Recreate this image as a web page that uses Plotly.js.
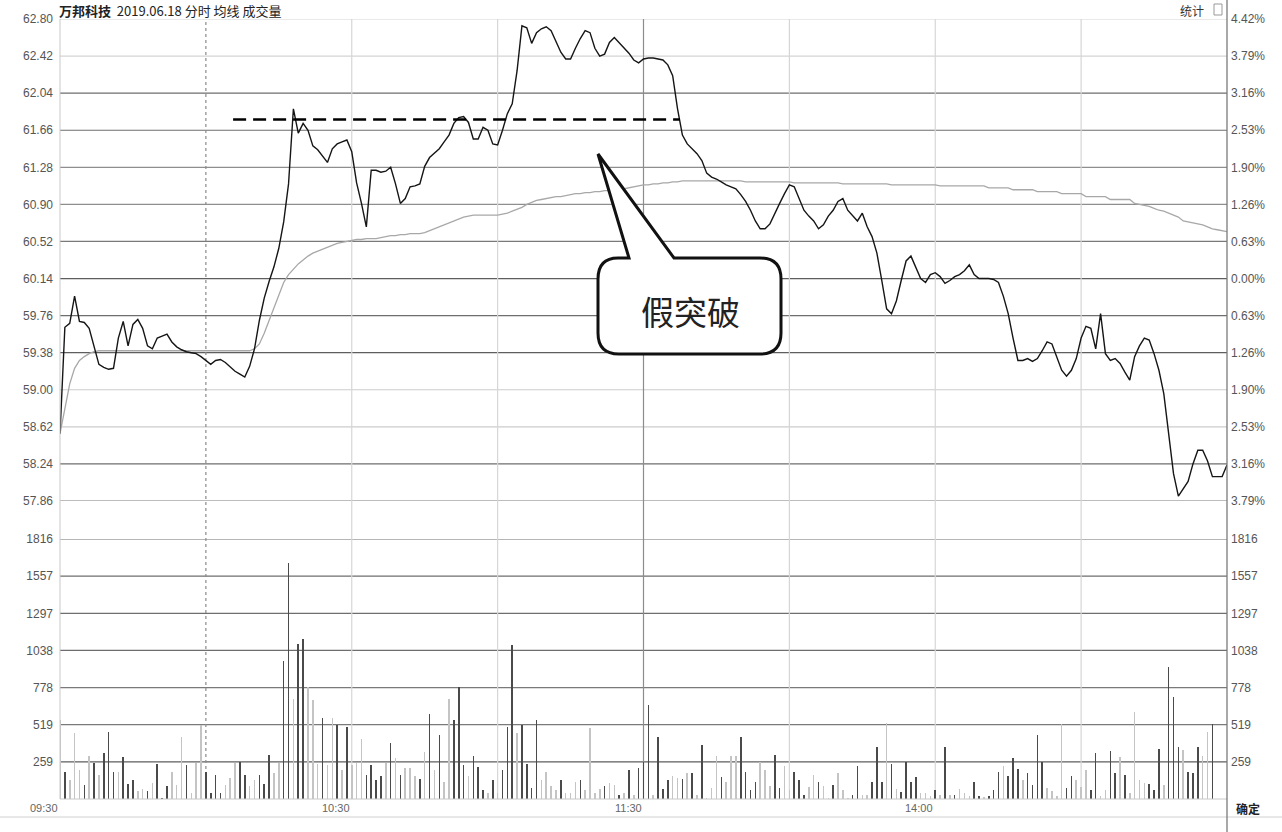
<!DOCTYPE html>
<html><head><meta charset="utf-8">
<script src="https://cdn.plot.ly/plotly-3.0.1.min.js"></script>
<style>html,body{margin:0;padding:0;background:#fff;}#chart{width:1282px;height:832px;}</style>
</head><body><div id="chart"></div>
<script>
// ---- data ----
const priceTicks = [62.80, 62.42, 62.04, 61.66, 61.28, 60.90, 60.52, 60.14, 59.76, 59.38, 59.00, 58.62, 58.24, 57.86];
const pctLabels = ["4.42%", "3.79%", "3.16%", "2.53%", "1.90%", "1.26%", "0.63%", "0.00%", "0.63%", "1.26%", "1.90%", "2.53%", "3.16%", "3.79%"];
const volTicks = [259, 519, 778, 1038, 1297, 1557, 1816];
const timeLabels = ["09:30", "10:30", "11:30", "14:00"];
const timeLabelPos = [0, 60, 120, 180];

const price = [
58.55,59.64,59.68,59.96,59.70,59.69,59.63,59.44,59.26,59.23,
59.21,59.22,59.53,59.70,59.45,59.67,59.72,59.63,59.45,59.42,
59.53,59.55,59.57,59.49,59.44,59.41,59.39,59.38,59.37,59.34,
59.30,59.26,59.30,59.31,59.28,59.23,59.19,59.16,59.13,59.24,
59.42,59.71,59.94,60.11,60.26,60.45,60.72,61.11,61.88,61.63,
61.73,61.66,61.50,61.46,61.40,61.33,61.47,61.52,61.54,61.56,
61.44,61.12,60.91,60.67,61.25,61.25,61.23,61.24,61.28,61.11,
60.91,60.96,61.08,61.09,61.11,61.29,61.38,61.43,61.47,61.54,
61.61,61.73,61.79,61.80,61.74,61.57,61.57,61.69,61.66,61.52,
61.51,61.66,61.83,61.93,62.27,62.73,62.71,62.55,62.66,62.70,
62.72,62.68,62.57,62.46,62.39,62.39,62.50,62.60,62.68,62.66,
62.50,62.42,62.44,62.56,62.61,62.56,62.51,62.45,62.38,62.35,
62.39,62.40,62.40,62.39,62.38,62.33,62.22,61.88,61.61,61.52,
61.47,61.42,61.35,61.22,61.18,61.16,61.13,61.10,61.08,61.06,
61.00,60.93,60.84,60.73,60.65,60.65,60.70,60.81,60.91,61.01,
61.10,61.08,60.96,60.84,60.78,60.73,60.65,60.69,60.78,60.84,
60.93,60.96,60.84,60.78,60.73,60.81,60.67,60.57,60.40,60.12,
59.83,59.78,59.91,60.12,60.32,60.37,60.26,60.14,60.10,60.18,
60.20,60.16,60.09,60.12,60.16,60.18,60.22,60.28,60.18,60.14,
60.14,60.14,60.13,60.10,59.96,59.78,59.53,59.30,59.30,59.32,
59.29,59.32,59.40,59.49,59.47,59.34,59.20,59.14,59.20,59.32,
59.53,59.65,59.63,59.42,59.78,59.37,59.30,59.32,59.27,59.18,
59.10,59.34,59.45,59.53,59.51,59.37,59.20,58.96,58.53,58.14,
57.91,57.99,58.06,58.24,58.38,58.38,58.27,58.11,58.11,58.11,
58.23];

const avgPrice = [
58.55,58.81,59.06,59.22,59.30,59.34,59.37,59.39,59.40,59.40,
59.40,59.40,59.40,59.40,59.40,59.40,59.40,59.40,59.40,59.40,
59.40,59.40,59.40,59.40,59.40,59.40,59.40,59.40,59.40,59.40,
59.40,59.40,59.40,59.40,59.40,59.40,59.40,59.40,59.40,59.40,
59.42,59.47,59.58,59.71,59.85,59.99,60.10,60.18,60.24,60.29,
60.33,60.37,60.40,60.42,60.44,60.46,60.48,60.50,60.51,60.52,
60.53,60.54,60.54,60.55,60.55,60.55,60.56,60.57,60.58,60.58,
60.59,60.59,60.60,60.60,60.60,60.61,60.63,60.65,60.67,60.69,
60.71,60.73,60.75,60.77,60.78,60.79,60.79,60.79,60.79,60.79,
60.79,60.80,60.81,60.83,60.85,60.87,60.90,60.92,60.94,60.95,
60.96,60.97,60.98,60.98,60.99,61.00,61.01,61.01,61.02,61.02,
61.03,61.03,61.04,61.04,61.05,61.05,61.06,61.07,61.08,61.09,
61.10,61.10,61.11,61.11,61.12,61.12,61.13,61.13,61.14,61.14,
61.14,61.14,61.14,61.14,61.14,61.14,61.14,61.14,61.14,61.14,
61.14,61.13,61.13,61.13,61.13,61.13,61.13,61.13,61.13,61.13,
61.13,61.12,61.12,61.12,61.12,61.12,61.12,61.12,61.12,61.12,
61.12,61.11,61.11,61.11,61.11,61.11,61.11,61.11,61.11,61.11,
61.11,61.10,61.10,61.10,61.10,61.10,61.10,61.10,61.10,61.10,
61.10,61.09,61.09,61.09,61.09,61.09,61.09,61.09,61.09,61.09,
61.09,61.07,61.07,61.07,61.07,61.07,61.05,61.05,61.05,61.05,
61.05,61.03,61.03,61.03,61.03,61.03,61.01,61.01,61.01,61.01,
61.01,60.98,60.98,60.98,60.98,60.98,60.95,60.95,60.95,60.95,
60.95,60.91,60.90,60.89,60.88,60.86,60.84,60.83,60.81,60.79,
60.77,60.73,60.72,60.71,60.70,60.69,60.67,60.65,60.64,60.63,
60.62];

const volume = [
550,190,135,460,200,100,300,250,170,320,
470,190,190,290,105,135,55,70,55,110,
245,10,90,190,100,435,235,40,250,520,
190,45,170,45,100,145,250,260,165,90,
135,170,105,310,185,250,965,1650,700,1080,
1115,785,690,245,565,240,565,515,200,500,
240,250,420,170,240,135,160,250,390,285,
170,215,215,160,140,330,595,205,445,120,
700,550,780,240,160,300,225,65,45,135,
40,200,500,1075,460,515,245,80,550,130,
190,90,65,135,45,45,120,130,60,495,
45,70,90,115,95,30,45,205,30,215,
260,655,30,430,70,135,160,150,140,180,
185,25,380,7,75,300,155,120,300,300,
430,190,65,120,255,205,90,310,75,230,
60,190,135,30,85,170,120,90,7,100,
180,60,7,30,230,30,30,120,360,120,
530,245,70,50,260,120,155,40,40,20,
60,25,360,30,25,70,40,20,120,20,
15,20,65,190,230,160,285,210,130,180,
100,445,255,75,55,20,525,75,160,135,
85,205,65,320,20,65,335,180,290,170,
40,610,130,110,105,65,350,100,920,710,
360,345,190,180,360,300,465,525,0,0,
0];

// 1 = dark bar, 0 = light bar (as drawn in the picture)
const volDark = [
0,1,0,0,0,1,0,1,0,1, 1,1,0,1,1,1,0,0,1,0,
1,1,1,0,0,0,1,0,0,0, 1,1,1,1,0,0,0,1,1,0,
0,1,1,1,0,0,1,1,0,1, 1,0,0,0,1,0,0,1,0,1,
0,0,0,1,1,1,1,0,1,0, 1,0,0,0,1,0,1,0,1,0,
0,1,1,1,0,1,1,1,0,1, 0,1,1,1,0,1,1,1,1,0,
0,0,0,1,0,0,0,1,0,0, 0,0,1,0,0,1,0,1,0,1,
1,1,0,1,1,1,0,0,1,0, 1,0,1,0,0,0,1,0,0,0,
1,1,1,1,0,0,0,1,1,0, 0,1,1,1,0,0,1,0,0,1,
0,0,0,1,1,0,0,1,1,1, 0,1,0,1,1,1,1,0,0,0,
1,0,1,0,1,0,0,0,1,1, 0,1,1,1,0,1,1,1,0,1,
1,1,1,0,0,0,0,1,1,0, 0,0,1,1,0,0,1,1,0,1,
0,0,0,0,1,1,1,0,1,1, 1,0,1,1,1,0,0,1,0,0,
0];

// ---- geometry helpers for layout furniture (pixels -> paper) ----
const PL = 60, PR = 1227, PT = 19, PB = 799;
const px = v => (v - PL) / (PR - PL);
const py = v => (PB - v) / (PB - PT);

const idx = price.map((_, i) => i);

const traces = [
  {x: idx, y: volume, xaxis: 'x', yaxis: 'y3', type: 'bar', width: 0.32,
   marker: {color: volDark.map(d => d ? '#4a4a4a' : '#c4c4c4'), line: {width: 0}},
   hoverinfo: 'skip', showlegend: false},
  {x: idx, y: avgPrice, xaxis: 'x', yaxis: 'y', type: 'scatter', mode: 'lines',
   line: {color: '#a8a8a8', width: 1.3}, hoverinfo: 'skip', showlegend: false},
  {x: idx, y: price, xaxis: 'x', yaxis: 'y', type: 'scatter', mode: 'lines',
   line: {color: '#151515', width: 1.4}, hoverinfo: 'skip', showlegend: false}
];

const priceGridColors = ['#d4d4d4','#d4d4d4','#6e6e6e','#6e6e6e','#8e8e8e','#8e8e8e','#7a7a7a','#5e5e5e','#6e6e6e','#5e5e5e','#cccccc','#cccccc','#6e6e6e','#7a7a7a'];
const volGridColors = ['#6e6e6e','#6e6e6e','#6e6e6e','#6e6e6e','#7a7a7a','#7a7a7a','#5e5e5e'];

const shapes = [];
priceTicks.forEach((v, k) => shapes.push({type: 'line', xref: 'paper', yref: 'y', x0: 0, x1: 1, y0: v, y1: v,
  line: {color: priceGridColors[k], width: 1.2}, layer: 'below'}));
volTicks.slice().reverse().forEach((v, k) => shapes.push({type: 'line', xref: 'paper', yref: 'y3', x0: 0, x1: 1, y0: v, y1: v,
  line: {color: volGridColors[k], width: 1.2}, layer: 'below'}));
shapes.push({type: 'line', xref: 'paper', yref: 'paper', x0: 0, x1: 1, y0: 0, y1: 0, line: {color: '#c8c8c8', width: 1}});
shapes.push({type: 'line', xref: 'paper', yref: 'paper', x0: px(0), x1: px(1282), y0: py(817), y1: py(817), line: {color: '#d0d0d0', width: 1}});
[[30, '#8a8a8a', 'dot'], [60, '#d6d6d6', 'solid'], [90, '#d6d6d6', 'solid'], [120, '#8c8c8c', 'solid'],
 [150, '#d6d6d6', 'solid'], [180, '#d6d6d6', 'solid'], [210, '#d6d6d6', 'solid']].forEach(([m, c, d]) =>
  shapes.push({type: 'line', xref: 'x', yref: 'paper', x0: m, x1: m, y0: 0, y1: 1, line: {color: c, width: 1.2, dash: d}, layer: 'below'}));
shapes.push({type: 'line', xref: 'paper', yref: 'paper', x0: 0, x1: 0, y0: 0, y1: 1, line: {color: '#c8c8c8', width: 1}});
shapes.push({type: 'line', xref: 'paper', yref: 'paper', x0: 1, x1: 1, y0: py(832), y1: py(0), line: {color: '#7a7a7a', width: 1.3}});
shapes.push({type: 'line', xref: 'x', yref: 'y', x0: 35.6, x1: 127.5, y0: 61.77, y1: 61.77,
  line: {color: '#000', width: 2.6, dash: '13px,7px'}});
const P = (a, b) => px(a) + ',' + py(b);
const bubble = 'M' + P(618, 258) + ' L' + P(629, 258) + ' L' + P(598, 154) + ' L' + P(674, 258) +
  ' L' + P(760, 258) + ' Q' + P(781, 258) + ' ' + P(781, 279) + ' L' + P(781, 333) +
  ' Q' + P(781, 354) + ' ' + P(760, 354) + ' L' + P(619, 354) + ' Q' + P(598, 354) + ' ' + P(598, 333) +
  ' L' + P(598, 279) + ' Q' + P(598, 258) + ' ' + P(618, 258) + ' Z';
shapes.push({type: 'path', xref: 'paper', yref: 'paper', path: bubble, fillcolor: '#ffffff',
  line: {color: '#111', width: 3}});
shapes.push({type: 'rect', xref: 'paper', yref: 'paper', x0: px(1214), x1: px(1222), y0: py(15), y1: py(4),
  line: {color: '#999', width: 1}, fillcolor: '#fff'});

const annotations = [
  {xref: 'paper', yref: 'paper', x: px(690), y: py(311), text: '假突破', showarrow: false,
   font: {family: 'Noto Sans CJK SC', size: 33, color: '#222'}, xanchor: 'center', yanchor: 'middle'},
  {xref: 'paper', yref: 'paper', x: px(57), y: py(10), text: '<b>万邦科技</b>  2019.06.18 分时 均线 成交量', showarrow: false,
   font: {family: 'Noto Sans CJK SC', size: 13, color: '#222'}, xanchor: 'left', yanchor: 'middle'},
  {xref: 'paper', yref: 'paper', x: px(1206), y: py(10), text: '统计', showarrow: false,
   font: {family: 'Noto Sans CJK SC', size: 12, color: '#333'}, xanchor: 'right', yanchor: 'middle'},
  {xref: 'paper', yref: 'paper', x: px(1262), y: py(808), text: '<b>确定</b>', showarrow: false,
   font: {family: 'Noto Sans CJK SC', size: 12, color: '#222'}, xanchor: 'right', yanchor: 'middle'}
];
timeLabels.forEach((t, k) => annotations.push({xref: 'x', yref: 'paper', x: timeLabelPos[k], y: py(808), text: t,
  showarrow: false, xanchor: 'right', yanchor: 'middle', font: {family: 'Liberation Sans', size: 11, color: '#666'}}));

const axFont = {family: 'Liberation Sans', size: 12, color: '#555'};
const layout = {
  width: 1282, height: 832,
  margin: {l: PL, r: 1282 - PR, t: PT, b: 832 - PB, pad: 0},
  paper_bgcolor: '#fff', plot_bgcolor: '#fff', showlegend: false, bargap: 0,
  xaxis: {range: [0, 240], anchor: 'y3', showgrid: false, zeroline: false, showticklabels: false, ticks: '', fixedrange: true},
  yaxis: {domain: [(PB - 501) / (PB - PT), 1], range: [57.86, 62.80], tickvals: priceTicks,
    ticktext: priceTicks.map(v => v.toFixed(2)), showgrid: false, zeroline: false, ticks: '', tickfont: axFont, ticklabelstandoff: 6},
  yaxis2: {overlaying: 'y', side: 'right', anchor: 'x', range: [57.86, 62.80], tickvals: priceTicks, ticktext: pctLabels,
    showgrid: false, zeroline: false, ticks: '', tickfont: axFont, ticklabelstandoff: 3},
  yaxis3: {domain: [0, (PB - 539) / (PB - PT)], range: [0, 1816], tickvals: volTicks, ticktext: volTicks.map(String),
    showgrid: false, zeroline: false, ticks: '', tickfont: axFont, ticklabelstandoff: 6},
  yaxis4: {overlaying: 'y3', side: 'right', anchor: 'x', range: [0, 1816], tickvals: volTicks, ticktext: volTicks.map(String),
    showgrid: false, zeroline: false, ticks: '', tickfont: axFont, ticklabelstandoff: 3},
  shapes: shapes, annotations: annotations
};
traces.push({x: [0], y: [null], xaxis: 'x', yaxis: 'y2', type: 'scatter', mode: 'lines', hoverinfo: 'skip', showlegend: false});
traces.push({x: [0], y: [null], xaxis: 'x', yaxis: 'y4', type: 'scatter', mode: 'lines', hoverinfo: 'skip', showlegend: false});

Plotly.newPlot('chart', traces, layout, {displayModeBar: false, staticPlot: true});
</script></body></html>
